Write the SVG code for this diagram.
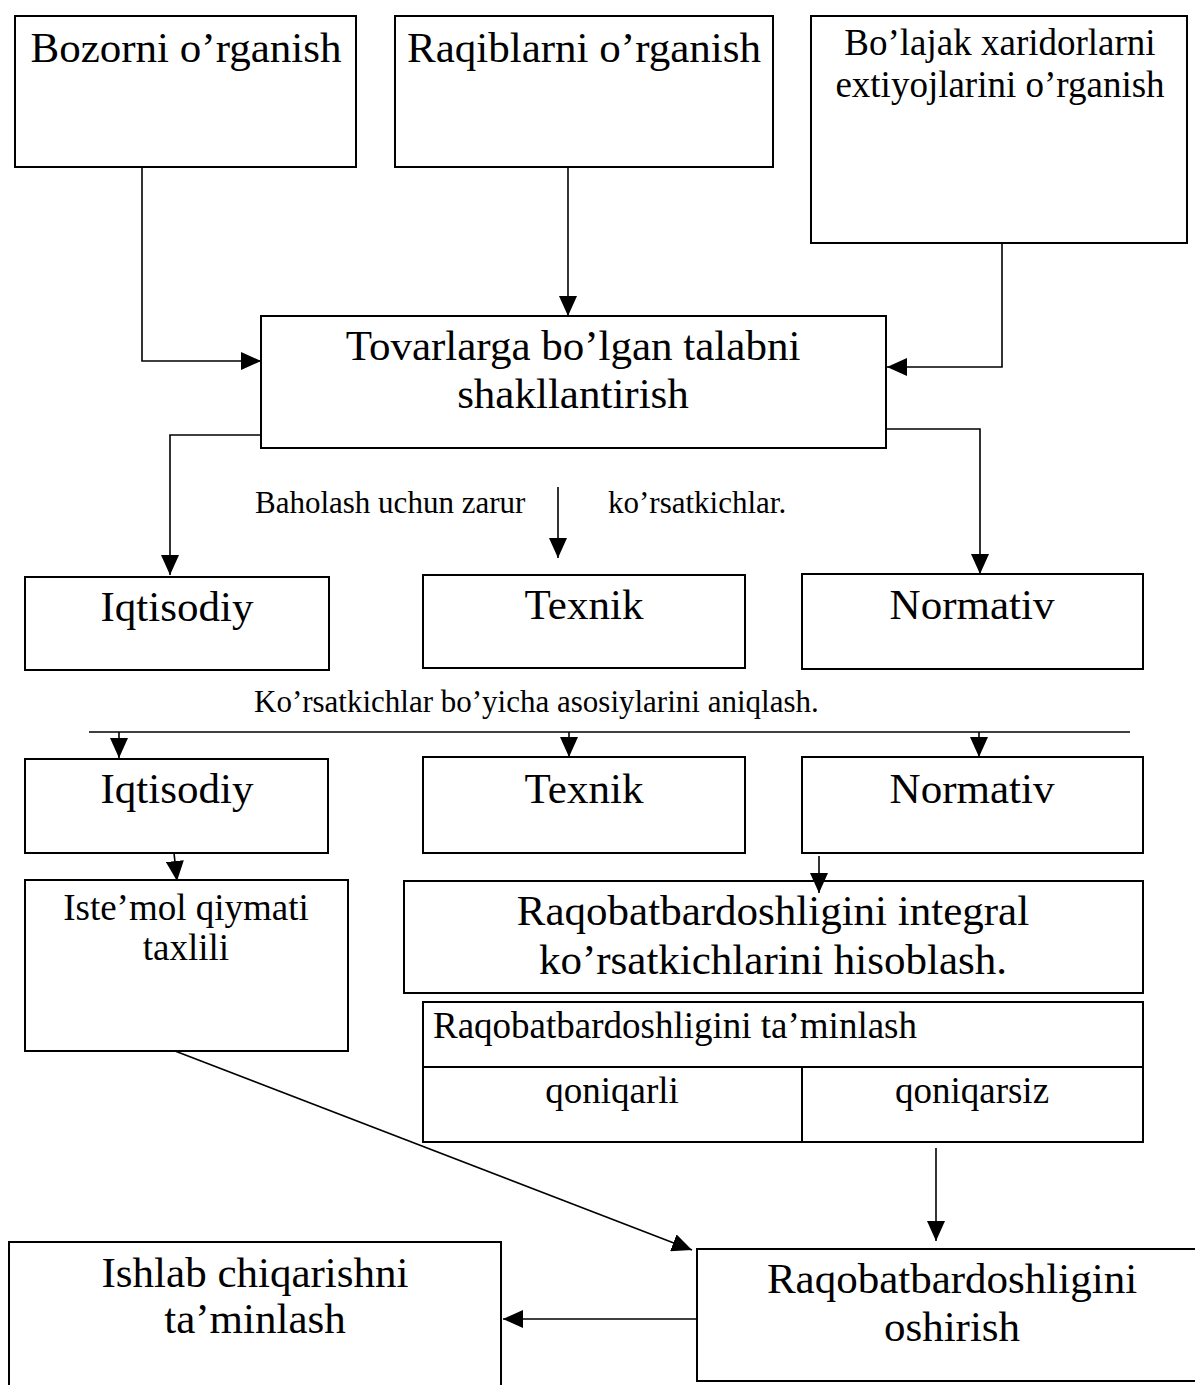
<svg xmlns="http://www.w3.org/2000/svg" width="1195" height="1385" viewBox="0 0 1195 1385">
<style>
.b{fill:#fff;stroke:#000;stroke-width:2}
.c{fill:none;stroke:#000;stroke-width:1.6}
text{font-family:"Liberation Serif","Times New Roman",serif;fill:#000}
.l{font-size:43px;text-anchor:middle}
.m{font-size:37px;text-anchor:middle}
.s{font-size:31px}
.t{font-size:37px}
</style>
<defs>
<marker id="a" viewBox="0 0 20 18" refX="20" refY="9" markerWidth="20" markerHeight="18" markerUnits="userSpaceOnUse" orient="auto">
<path d="M0,0 L20,9 L0,18 Z" fill="#000"/>
</marker>
</defs>
<rect width="1195" height="1385" fill="#fff"/>
<g id="n1"><rect class="b" x="15" y="16" width="341" height="151"/><text class="l" x="186" y="62">Bozorni o’rganish</text></g>
<g id="n2"><rect class="b" x="395" y="16" width="378" height="151"/><text class="l" x="584" y="62">Raqiblarni o’rganish</text></g>
<g id="n3"><rect class="b" x="811" y="16" width="376" height="227"/><text class="m" x="1000" y="55">Bo’lajak xaridorlarni</text><text class="m" x="1000" y="97">extiyojlarini o’rganish</text></g>
<g id="n4"><rect class="b" x="261" y="316" width="625" height="132"/><text class="l" x="573" y="360">Tovarlarga bo’lgan talabni</text><text class="l" x="573" y="408">shakllantirish</text></g>
<g id="lbl1"><text class="s" x="255" y="513">Baholash uchun zarur</text><text class="s" x="608" y="513">ko’rsatkichlar.</text></g>
<g id="n5"><rect class="b" x="25" y="577" width="304" height="93"/><text class="l" x="177" y="621">Iqtisodiy</text></g>
<g id="n6"><rect class="b" x="423" y="575" width="322" height="93"/><text class="l" x="584" y="619">Texnik</text></g>
<g id="n7"><rect class="b" x="802" y="574" width="341" height="95"/><text class="l" x="972" y="619">Normativ</text></g>
<g id="lbl2"><text class="s" x="254" y="712">Ko’rsatkichlar bo’yicha asosiylarini aniqlash.</text></g>
<g id="n8"><rect class="b" x="25" y="759" width="303" height="94"/><text class="l" x="177" y="803">Iqtisodiy</text></g>
<g id="n9"><rect class="b" x="423" y="757" width="322" height="96"/><text class="l" x="584" y="803">Texnik</text></g>
<g id="n10"><rect class="b" x="802" y="757" width="341" height="96"/><text class="l" x="972" y="803">Normativ</text></g>
<g id="n11"><rect class="b" x="25" y="880" width="323" height="171"/><text class="m" x="186" y="920">Iste’mol qiymati</text><text class="m" x="186" y="960">taxlili</text></g>
<g id="n12"><rect class="b" x="404" y="881" width="739" height="112"/><text class="l" x="773" y="925">Raqobatbardoshligini integral</text><text class="l" x="773" y="974">ko’rsatkichlarini hisoblash.</text></g>
<g id="n13"><rect class="b" x="423" y="1002" width="720" height="140"/><line class="b" x1="423" y1="1067" x2="1143" y2="1067"/><line class="b" x1="802" y1="1067" x2="802" y2="1142"/><text class="t" x="433" y="1038">Raqobatbardoshligini ta’minlash</text><text class="m" x="612" y="1103">qoniqarli</text><text class="m" x="972" y="1103">qoniqarsiz</text></g>
<g id="n14"><rect class="b" x="9" y="1242" width="492" height="170"/><text class="l" x="255" y="1287">Ishlab chiqarishni</text><text class="l" x="255" y="1333">ta’minlash</text></g>
<g id="n15"><rect class="b" x="697" y="1249" width="512" height="132"/><text class="l" x="952" y="1293">Raqobatbardoshligini</text><text class="l" x="952" y="1341">oshirish</text></g>
<g id="connectors">
<path class="c" d="M142,167 V361 H261" marker-end="url(#a)"/>
<path class="c" d="M568,167 V316" marker-end="url(#a)"/>
<path class="c" d="M1002,243 V367 H887" marker-end="url(#a)"/>
<path class="c" d="M261,435 H170 V575" marker-end="url(#a)"/>
<path class="c" d="M886,429 H980 V574" marker-end="url(#a)"/>
<path class="c" d="M558,487 V558" marker-end="url(#a)"/>
<line class="c" x1="89" y1="732" x2="1130" y2="732"/>
<path class="c" d="M119,732 V758" marker-end="url(#a)"/>
<path class="c" d="M569,732 V757" marker-end="url(#a)"/>
<path class="c" d="M979,732 V757" marker-end="url(#a)"/>
<path class="c" d="M174,853 L177,881" marker-end="url(#a)"/>
<path class="c" d="M819,856 V893" marker-end="url(#a)"/>
<path class="c" d="M936,1148 V1241" marker-end="url(#a)"/>
<path class="c" d="M175,1051 L692,1250" marker-end="url(#a)"/>
<path class="c" d="M697,1319 H503" marker-end="url(#a)"/>
</g>
</svg>
